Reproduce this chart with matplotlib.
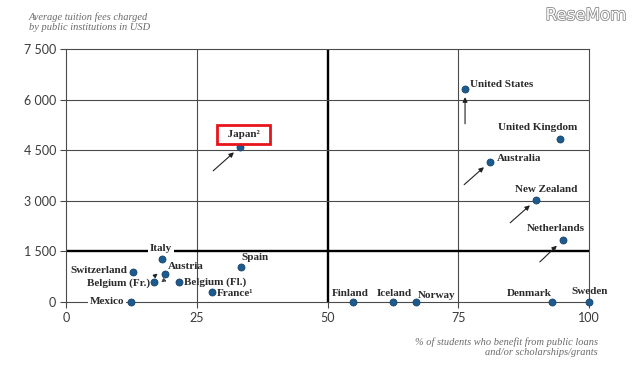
import matplotlib

matplotlib.use("Agg")
import matplotlib.pyplot as plt
import matplotlib.patheffects as pe
from matplotlib.transforms import offset_copy

# country, % students with public support, avg tuition (USD)
countries = ["United States", "United Kingdom", "Australia", "New Zealand", "Netherlands",
             "Japan\u00b2", "Italy", "Switzerland", "Austria", "Belgium (Fr.)", "Belgium (Fl.)",
             "Spain", "France\u00b9", "Mexico", "Finland", "Iceland", "Norway", "Denmark", "Sweden"]
share_support = [76.3, 94.5, 81.1, 89.9, 95.0,
                 33.3, 18.4, 12.8, 18.9, 16.8, 21.6,
                 33.5, 27.9, 12.4, 54.9, 62.5, 66.9, 92.9, 100.0]
tuition_usd = [6320, 4840, 4160, 3030, 1840,
               4600, 1280, 890, 830, 590, 590,
               1040, 300, 0, 0, 0, 0, 0, 0]

x_ticks = [0, 25, 50, 75, 100]
y_ticks = [0, 1500, 3000, 4500, 6000, 7500]
y_tick_labels = ["0", "1 500", "3 000", "4 500", "6 000", "7 500"]

# label placement: (dx px, dy px, ha)
label_pos = {
    "United States": (5, 4, "left"), "United Kingdom": (-23, 11, "center"),
    "Australia": (7, 3, "left"), "New Zealand": (10, 10, "center"),
    "Netherlands": (-7, 11, "center"), "Japan\u00b2": (3, 12, "center"),
    "Italy": (-1, 10, "center"), "Switzerland": (-6, 1, "right"),
    "Austria": (3, 8, "left"), "Belgium (Fr.)": (-4, -1, "right"),
    "Belgium (Fl.)": (5, 0, "left"), "Spain": (0, 9, "left"),
    "France\u00b9": (5, -2, "left"), "Mexico": (-7, 0, "right"),
    "Finland": (-3, 8, "center"), "Iceland": (1, 8, "center"),
    "Norway": (21, 7, "center"), "Denmark": (-23, 8, "center"),
    "Sweden": (1, 10, "center"),
}
# arrows: country -> tail offset (px) from its point
arrow_tails = {
    "United States": (0, -35), "Japan\u00b2": (-27, -24), "Australia": (-26, -23),
    "New Zealand": (-26, -23), "Netherlands": (-23, -22),
}

line_c = "#4a4a4a"
txt_c = "#2b2b2b"
serif = ["Liberation Serif", "DejaVu Serif"]

fig = plt.figure(figsize=(6.4, 3.8), dpi=100)
ax = fig.add_axes([66 / 640, 78 / 380, 523 / 640, 253 / 380])
ax.set_xlim(0, 100)
ax.set_ylim(0, 7500)

for s in ax.spines.values():
    s.set_color(line_c)
    s.set_linewidth(0.8)
for xv in x_ticks[1:-1]:
    ax.axvline(xv, color="black" if xv == 50 else line_c, lw=1.7 if xv == 50 else 0.8, zorder=1)
for yv in y_ticks[1:-1]:
    ax.axhline(yv, color="black" if yv == 1500 else line_c, lw=1.7 if yv == 1500 else 0.8, zorder=1)

ax.set_xticks(x_ticks)
ax.set_yticks(y_ticks)
ax.set_yticklabels(y_tick_labels)
ax.tick_params(length=4, width=0.8, color=line_c, labelcolor="#3a3a3a", labelsize=9, pad=3)
for lab in ax.get_xticklabels() + ax.get_yticklabels():
    lab.set_family(["Lato", "DejaVu Sans"])

ax.scatter(share_support, tuition_usd, s=26, color="#1d5a8e", edgecolor="#123d63",
           lw=0.5, zorder=5, clip_on=False)

for name, xv, yv in zip(countries, share_support, tuition_usd):
    dx, dy, ha = label_pos[name]
    kw = {}
    shown = name
    if name in ("Italy", "Mexico"):
        kw["bbox"] = dict(boxstyle="square,pad=0.15", fc="white", ec="none")
    if name == "Japan\u00b2":
        shown = "  " + name + "  "
        kw["bbox"] = dict(boxstyle="square,pad=0.45", fc="none", ec="#e8141b", lw=2)
    ax.annotate(shown, (xv, yv), xytext=(dx, dy), textcoords="offset pixels",
                ha=ha, va="center", fontsize=8, fontweight="bold", color=txt_c,
                family=serif, zorder=6, annotation_clip=False, **kw)
    if name in arrow_tails:
        ax.annotate("", (xv, yv), xytext=arrow_tails[name], textcoords="offset pixels",
                    arrowprops=dict(arrowstyle="-|>", color="#222222", lw=0.8,
                                    shrinkA=0, shrinkB=6, mutation_scale=7), zorder=4)

# Belgium (Fr.) <-> Austria arrows
i_fr = countries.index("Belgium (Fr.)")
i_at = countries.index("Austria")
p_fr = (share_support[i_fr], tuition_usd[i_fr])
p_at = (share_support[i_at], tuition_usd[i_at])
ax.annotate("", p_at, xycoords=offset_copy(ax.transData, fig, x=-4, y=3, units="dots"),
            xytext=p_fr, textcoords=offset_copy(ax.transData, fig, x=-3, y=3, units="dots"),
            arrowprops=dict(arrowstyle="-|>", color="#222222", lw=0.7, shrinkA=3, shrinkB=3,
                            mutation_scale=6))
ax.annotate("", p_fr, xycoords=offset_copy(ax.transData, fig, x=4, y=-3, units="dots"),
            xytext=p_at, textcoords=offset_copy(ax.transData, fig, x=3, y=-3, units="dots"),
            arrowprops=dict(arrowstyle="-|>", color="#444444", lw=0.7, ls=(0, (1, 1)),
                            shrinkA=3, shrinkB=3, mutation_scale=6))

fig.text(29 / 640, 1 - 12 / 380, "Average tuition fees charged\nby public institutions in USD",
         ha="left", va="top", fontsize=7.5, style="italic", color="#6a6a6a",
         family=serif, linespacing=1.15)
fig.text(598 / 640, 1 - 337 / 380,
         "% of students who benefit from public loans\nand/or scholarships/grants",
         ha="right", va="top", fontsize=7.5, style="italic", color="#6a6a6a",
         family=serif, linespacing=1.15)
fig.text(586 / 640, 1 - 15 / 380, "ReseMom", ha="center", va="center", fontsize=12,
         color="white", family=["DejaVu Sans"],
         path_effects=[pe.withStroke(linewidth=1.2, foreground="#8a8a8a")])

fig.savefig("out.png", dpi=100)
